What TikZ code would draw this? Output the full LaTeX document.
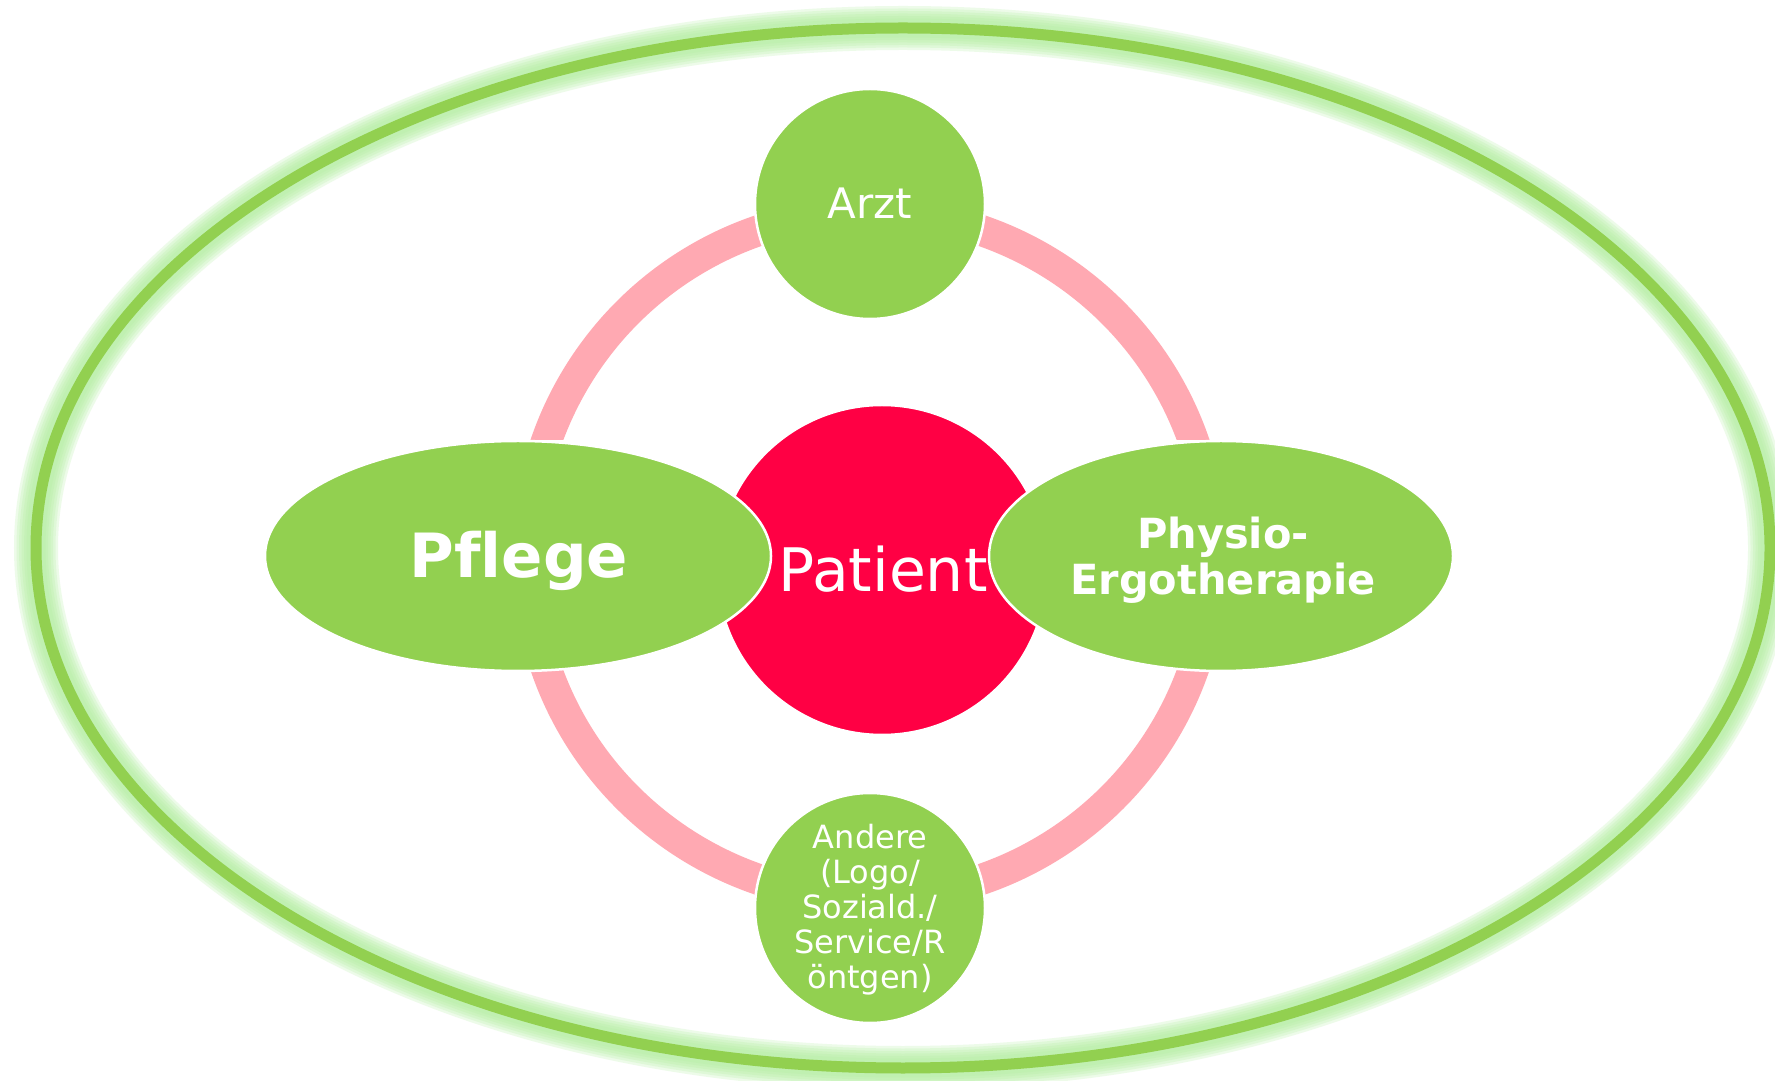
\documentclass[tikz,border=0pt]{standalone}
\usepackage{fontspec}
\setmainfont[Ligatures=NoCommon]{DejaVu Sans}
\usetikzlibrary{shapes.geometric}
\definecolor{grn}{HTML}{92D050}
\definecolor{glowgrn}{HTML}{B0EE9C}
\definecolor{pinkband}{HTML}{FFA9B2}
\definecolor{patred}{HTML}{FF0044}
\tikzset{
  band/.style={draw=pinkband, line width=31, line cap=butt},
  greennode/.style={fill=grn, draw=white, line width=2.5, inner sep=0},
  txt/.style={text=white, inner sep=0},
  glowring/.style={draw=glowgrn, line width=#1, opacity=0.22},
}
\begin{document}
\begin{tikzpicture}[x=1pt,y=1pt]
\useasboundingbox (0,0) rectangle (1775,1080);
\fill[white] (0,0) rectangle (1775,1080);
% outer team ellipse with glow
\foreach \w in {44,39,34,29,24,19} {
  \draw[glowring=\w] (903,532) ellipse [x radius=867, y radius=520];
}
\draw[grn, line width=11] (903,532) ellipse [x radius=867, y radius=520];
% ring
\coordinate (ring) at (870,525);
\begin{scope}
\clip (0,640) rectangle (1775,1080);
\draw[band] (ring) ++(12:343) arc[start angle=12, end angle=168, radius=343];
\end{scope}
\begin{scope}
\clip (0,0) rectangle (1775,409);
\draw[band] (ring) ++(192:343) arc[start angle=192, end angle=348, radius=343];
\end{scope}
% nodes
\node[circle, fill=patred, draw=white, line width=2.5, minimum size=330, inner sep=0] (patient) at (882,510) {};
\node[ellipse, greennode, minimum width=506, minimum height=230] (pflege) at (518,524) {};
\node[ellipse, greennode, minimum width=464, minimum height=230] (physio) at (1221,524) {};
\node[circle, greennode, minimum size=230] (arzt) at (870,876) {};
\node[circle, greennode, minimum size=230] (andere) at (870,172) {};
% texts
\node[txt, anchor=base, font=\fontsize{60}{72}\selectfont] (tpatient) at (883,488) {Patient};
\node[txt, anchor=base, font=\bfseries\fontsize{61}{72}\selectfont] (tpflege) at (519,502) {Pflege};
\node[txt, align=center, font=\bfseries\fontsize{41.5}{46}\selectfont] (tphysio) at (1223,520) {Physio-\\Ergotherapie};
\node[txt, anchor=base, font=\fontsize{42}{50}\selectfont] (tarzt) at (870,861) {Arzt};
\node[txt, align=center, font=\fontsize{32}{35}\selectfont] (tandere) at (870,170) {Andere\\(Logo/\\Soziald./\\Service/R\\öntgen)};
\end{tikzpicture}
\end{document}
